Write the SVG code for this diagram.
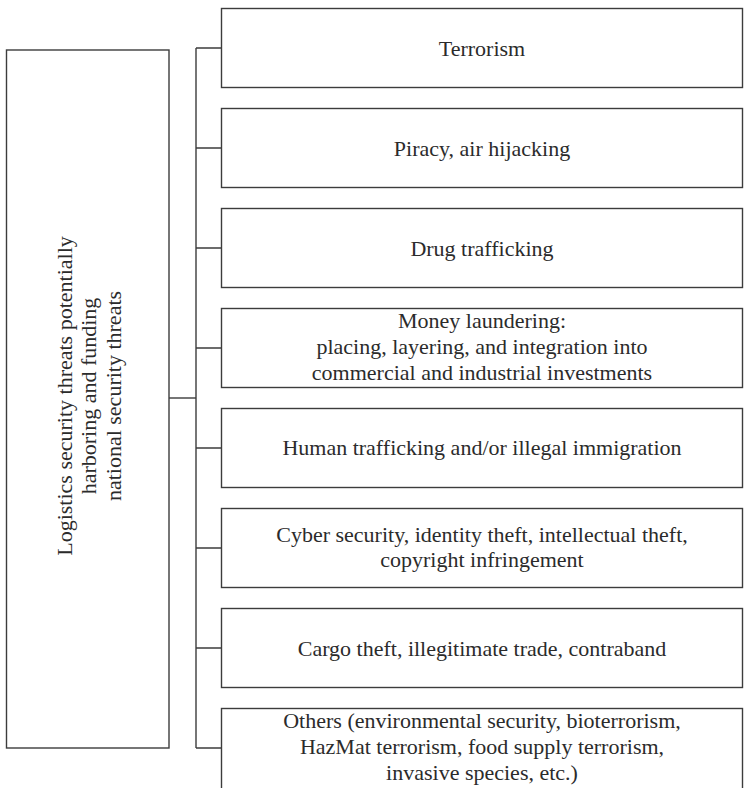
<svg xmlns="http://www.w3.org/2000/svg" width="744" height="788" viewBox="0 0 744 788">
  <style>
    .box { fill: #ffffff; stroke: #3c3c3c; stroke-width: 1.4; }
    .wire { fill: none; stroke: #3c3c3c; stroke-width: 1.4; }
    .label { font-family: "Liberation Serif", "Times New Roman", serif; font-size: 22px; fill: #2b2b2b; text-anchor: middle; }
  </style>
  <rect width="744" height="788" fill="#ffffff"/>

  <!-- connectors: stub from the root box, vertical bus, one tick per category -->
  <g id="connectors" class="wire">
    <path d="M169 398 H196"/>
    <path d="M196 48 V748"/>
    <path d="M196 48 H221 M196 148 H221 M196 248 H221 M196 348 H221 M196 448 H221 M196 548 H221 M196 648 H221 M196 748 H221"/>
  </g>

  <g id="root">
    <rect class="box" x="6.5" y="50" width="162.5" height="698"/>
    <g transform="translate(97 396) rotate(-90)">
      <text class="label" x="0" y="-25">Logistics security threats potentially</text>
      <text class="label" x="0" y="-1">harboring and funding</text>
      <text class="label" x="0" y="24">national security threats</text>
    </g>
  </g>

  <g id="terrorism">
    <rect class="box" x="221.5" y="8.5" width="521" height="79"/>
    <text class="label" x="482" y="55.5">Terrorism</text>
  </g>

  <g id="piracy">
    <rect class="box" x="221.5" y="108.5" width="521" height="79"/>
    <text class="label" x="482" y="155.5">Piracy, air hijacking</text>
  </g>

  <g id="drugs">
    <rect class="box" x="221.5" y="208.5" width="521" height="79"/>
    <text class="label" x="482" y="255.5">Drug trafficking</text>
  </g>

  <g id="money-laundering">
    <rect class="box" x="221.5" y="308.5" width="521" height="79"/>
    <text class="label" x="482" y="328">Money laundering:</text>
    <text class="label" x="482" y="354">placing, layering, and integration into</text>
    <text class="label" x="482" y="380">commercial and industrial investments</text>
  </g>

  <g id="human-trafficking">
    <rect class="box" x="221.5" y="408.5" width="521" height="79"/>
    <text class="label" x="482" y="455">Human trafficking and/or illegal immigration</text>
  </g>

  <g id="cyber">
    <rect class="box" x="221.5" y="508.5" width="521" height="79"/>
    <text class="label" x="482" y="542">Cyber security, identity theft, intellectual theft,</text>
    <text class="label" x="482" y="567">copyright infringement</text>
  </g>

  <g id="cargo">
    <rect class="box" x="221.5" y="608.5" width="521" height="79"/>
    <text class="label" x="482" y="655.5">Cargo theft, illegitimate trade, contraband</text>
  </g>

  <g id="others">
    <rect class="box" x="221.5" y="708.5" width="521" height="100"/>
    <text class="label" x="482" y="728">Others (environmental security, bioterrorism,</text>
    <text class="label" x="482" y="754">HazMat terrorism, food supply terrorism,</text>
    <text class="label" x="482" y="780">invasive species, etc.)</text>
  </g>
</svg>
